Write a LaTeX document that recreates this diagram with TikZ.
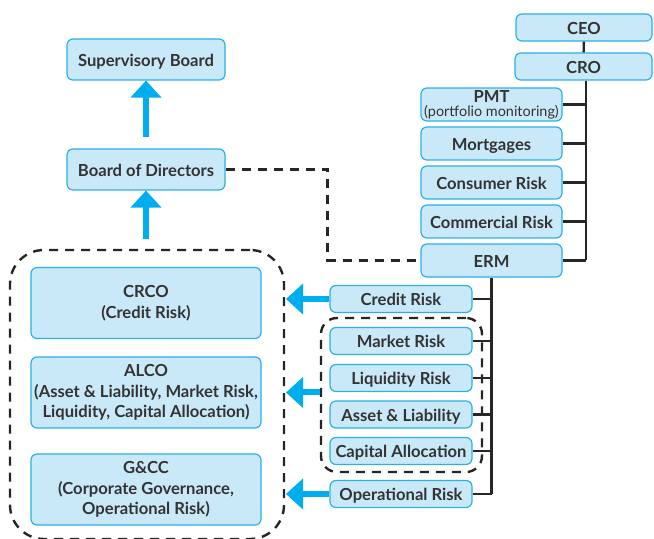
\documentclass[tikz,border=0pt]{standalone}
\usepackage{fontspec}
\setmainfont{Lato}
\usetikzlibrary{arrows.meta}
\definecolor{boxfill}{HTML}{C9E9F9}
\definecolor{boxline}{HTML}{2BB0E8}
\definecolor{arrowblue}{HTML}{00AEEF}
\definecolor{txt}{HTML}{333333}
\tikzset{unit/.style={draw=boxline, fill=boxfill, rounded corners=3pt, line width=0.6pt, text=txt,
    font=\fontsize{8.3}{10.4}\selectfont\bfseries, align=center, inner sep=0pt, minimum height=#1,
    text height=7.6pt, text depth=1pt},
unit/.default={13.5pt},
%multi-line boxes keep their natural height
lines/.style={text height={}, text depth={}},
dashline/.style={draw=black!85, dash pattern=on 4.5pt off 3.5pt, line width=1.2pt},
group/.style={dashline, rounded corners=#1},
group/.default={8pt},
tree/.style={draw=black!85, line width=1.2pt},
push/.style={draw=arrowblue, line width=3pt, -{Triangle[width=15pt, length=8.5pt]}}}

\begin{document}
\begin{tikzpicture}[x=0.5pt, y=-0.5pt]
\useasboundingbox (0,0) rectangle (654,539);

% board side
\node[unit=20.5pt, minimum width=79pt] (sb) at (146,59.5) {Supervisory Board};
\node[unit=20.5pt, minimum width=79pt] (bod) at (146,169.5) {Board of Directors};

% risk organisation
\node[unit, minimum width=68pt] (ceo) at (584,27.5) {CEO};
\node[unit, minimum width=68.5pt] (cro) at (583.5,66.5) {CRO};
\node[unit=16.5pt, lines, minimum width=70.5pt] (pmt) at (491.5,104.5)
    {PMT\\[-3.5pt]{\mdseries\fontsize{7.2}{8}\selectfont (portfolio monitoring)}};
\node[unit=16.5pt, minimum width=70.5pt] (mort) at (491.5,143.5) {Mortgages};
\node[unit=16.5pt, minimum width=70.5pt] (cons) at (491.5,182.5) {Consumer Risk};
\node[unit=16.5pt, minimum width=70.5pt] (comm) at (491.5,221.5) {Commercial Risk};
\node[unit=16.5pt, minimum width=70.5pt] (erm) at (491.5,260.5) {ERM};

\node[unit, minimum width=71pt] (cr) at (401,299) {Credit Risk};
\node[unit, minimum width=71pt] (mr) at (401,341) {Market Risk};
\node[unit, minimum width=71pt] (lr) at (401,378) {Liquidity Risk};
\node[unit, minimum width=71pt] (al) at (401,414.5) {Asset \& Liability};
\node[unit, minimum width=71pt] (ca) at (401,451) {Capital Allocation};
\node[unit, minimum width=71pt] (opr) at (401,494) {Operational Risk};

% committees
\node[unit=35.5pt, lines, minimum width=115pt] (crco) at (146,303) {CRCO\\(Credit Risk)};
\node[unit=35.5pt, lines, minimum width=115pt] (alco) at (146,392.5) {ALCO\\(Asset \& Liability, Market Risk,\\Liquidity, Capital Allocation)};
\node[unit=35.5pt, lines, minimum width=115pt] (gcc) at (146,489.5) {G\&CC\\(Corporate Governance,\\Operational Risk)};

\node[group=17pt, minimum width=137pt, minimum height=144.5pt] (cmte) at (147,394.5) {};
\node[group, minimum width=80.5pt, minimum height=77pt] (mkt) at (401.5,395) {};

% reporting lines
\draw[tree] (ceo) -- (cro);
\draw[tree] (cro.south -| 586,0) -- (erm.east -| 586,0);
\foreach \n in {pmt,mort,cons,comm,erm}
    \draw[tree] (\n.east) -- (\n.east -| 586,0);
\draw[tree] (erm.south) -- (opr.east -| erm.south);
\foreach \n in {cr,mr,lr,al,ca,opr}
    \draw[tree] (\n.east) -- (\n.east -| erm.south);

\draw[dashline] (bod.east) -- ++(102,0) |- (erm.west);

% escalation
\draw[push] (146,137) -- (sb.south);
\draw[push] (146,239) -- (bod.south);
\draw[push] (cr.west) -- (cr.west -| 286,0);
\draw[push] (mkt.west |- alco) -- (286,0 |- alco);
\draw[push] (opr.west) -- (opr.west -| 286,0);

\end{tikzpicture}
\end{document}
